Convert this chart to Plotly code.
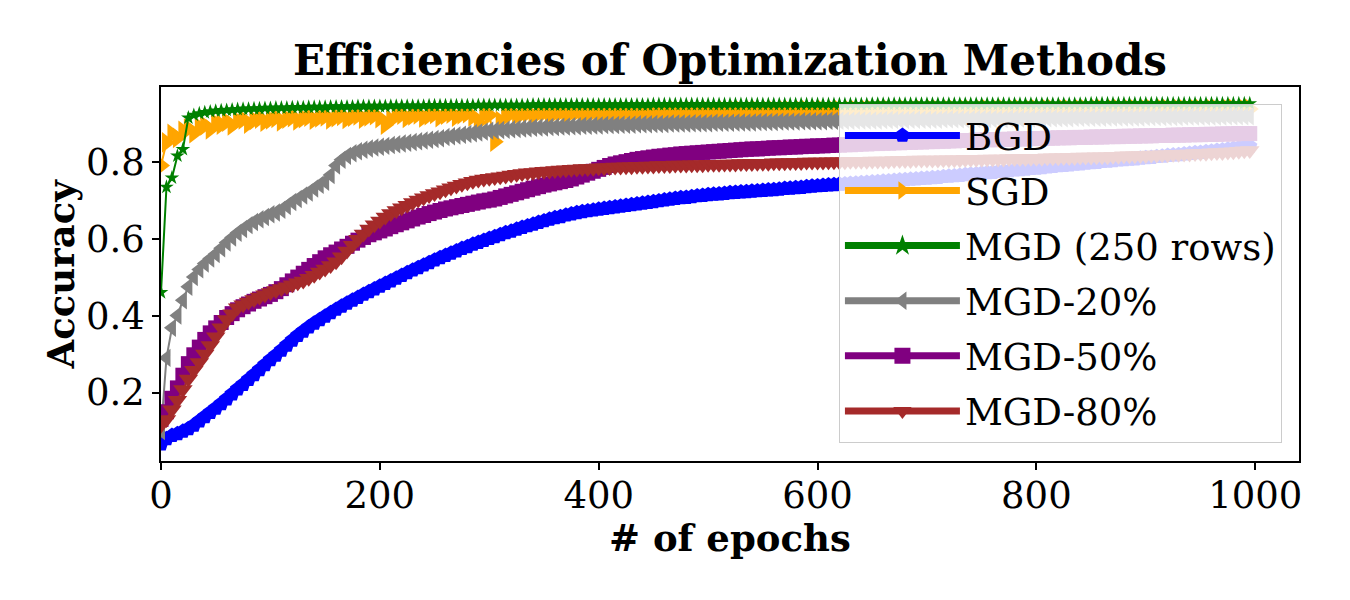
import plotly.graph_objects as go

EPOCHS = list(range(0, 1000, 5))

BGD = [
    0.066, 0.080, 0.088, 0.093, 0.099, 0.106, 0.115, 0.126, 0.137, 0.148, 0.159, 0.171, 0.183, 0.196, 0.209, 0.221, 0.234, 0.246, 0.259, 0.272,
    0.285, 0.297, 0.310, 0.323, 0.336, 0.348, 0.359, 0.370, 0.380, 0.389, 0.398, 0.407, 0.416, 0.424, 0.432, 0.440, 0.447, 0.455, 0.462, 0.469,
    0.476, 0.483, 0.490, 0.497, 0.504, 0.511, 0.518, 0.524, 0.531, 0.537, 0.544, 0.550, 0.556, 0.562, 0.568, 0.574, 0.579, 0.585, 0.590, 0.595,
    0.600, 0.605, 0.610, 0.615, 0.619, 0.624, 0.629, 0.633, 0.637, 0.642, 0.646, 0.650, 0.654, 0.657, 0.661, 0.664, 0.667, 0.670, 0.672, 0.674,
    0.676, 0.678, 0.680, 0.682, 0.684, 0.686, 0.688, 0.690, 0.692, 0.694, 0.696, 0.698, 0.700, 0.702, 0.704, 0.706, 0.707, 0.709, 0.711, 0.712,
    0.714, 0.715, 0.716, 0.717, 0.719, 0.720, 0.721, 0.722, 0.723, 0.724, 0.725, 0.726, 0.727, 0.728, 0.730, 0.731, 0.732, 0.733, 0.735, 0.736,
    0.737, 0.738, 0.739, 0.740, 0.741, 0.742, 0.743, 0.744, 0.745, 0.746, 0.747, 0.748, 0.749, 0.750, 0.751, 0.752, 0.753, 0.754, 0.755, 0.756,
    0.757, 0.758, 0.759, 0.761, 0.762, 0.763, 0.764, 0.766, 0.767, 0.768, 0.770, 0.771, 0.772, 0.774, 0.775, 0.776, 0.778, 0.779, 0.780, 0.782,
    0.783, 0.784, 0.786, 0.787, 0.789, 0.790, 0.791, 0.793, 0.794, 0.796, 0.797, 0.798, 0.800, 0.801, 0.802, 0.804, 0.805, 0.806, 0.807, 0.809,
    0.810, 0.811, 0.813, 0.814, 0.816, 0.817, 0.818, 0.820, 0.821, 0.823, 0.824, 0.826, 0.827, 0.829, 0.830, 0.832, 0.834, 0.836, 0.838, 0.840,
]

SGD = [
    0.790, 0.850, 0.872, 0.862, 0.880, 0.886, 0.874, 0.890, 0.894, 0.884, 0.900, 0.896, 0.904, 0.894, 0.906, 0.910, 0.899, 0.908, 0.912, 0.904,
    0.910, 0.914, 0.905, 0.912, 0.916, 0.907, 0.913, 0.917, 0.909, 0.915, 0.918, 0.910, 0.916, 0.919, 0.911, 0.917, 0.920, 0.912, 0.918, 0.921,
    0.913, 0.896, 0.909, 0.919, 0.922, 0.914, 0.920, 0.923, 0.915, 0.921, 0.924, 0.916, 0.922, 0.925, 0.917, 0.923, 0.926, 0.918, 0.902, 0.924,
    0.921, 0.852, 0.906, 0.921, 0.926, 0.919, 0.925, 0.927, 0.920, 0.926, 0.928, 0.921, 0.926, 0.928, 0.922, 0.927, 0.929, 0.923, 0.927, 0.929,
    0.923, 0.928, 0.929, 0.924, 0.928, 0.930, 0.924, 0.929, 0.930, 0.925, 0.929, 0.930, 0.925, 0.929, 0.931, 0.926, 0.930, 0.931, 0.926, 0.930,
    0.931, 0.927, 0.930, 0.931, 0.927, 0.931, 0.932, 0.927, 0.931, 0.932, 0.928, 0.931, 0.932, 0.928, 0.932, 0.932, 0.928, 0.932, 0.933, 0.929,
    0.932, 0.933, 0.929, 0.932, 0.933, 0.929, 0.932, 0.933, 0.929, 0.933, 0.933, 0.930, 0.933, 0.934, 0.930, 0.933, 0.934, 0.930, 0.933, 0.934,
    0.930, 0.933, 0.934, 0.930, 0.934, 0.934, 0.930, 0.934, 0.934, 0.931, 0.934, 0.935, 0.931, 0.934, 0.935, 0.931, 0.934, 0.935, 0.931, 0.934,
    0.935, 0.931, 0.935, 0.935, 0.931, 0.935, 0.935, 0.932, 0.935, 0.935, 0.932, 0.935, 0.936, 0.932, 0.935, 0.936, 0.932, 0.935, 0.936, 0.932,
    0.935, 0.936, 0.932, 0.936, 0.936, 0.932, 0.936, 0.936, 0.933, 0.936, 0.936, 0.933, 0.936, 0.936, 0.933, 0.936, 0.937, 0.933, 0.936, 0.937,
]

MGD_250 = [
    0.460, 0.734, 0.758, 0.815, 0.832, 0.914, 0.921, 0.925, 0.928, 0.930, 0.932, 0.933, 0.934, 0.935, 0.936, 0.937, 0.937, 0.938, 0.938, 0.939,
    0.939, 0.940, 0.940, 0.940, 0.941, 0.941, 0.941, 0.942, 0.942, 0.942, 0.942, 0.943, 0.943, 0.943, 0.943, 0.943, 0.944, 0.944, 0.944, 0.944,
    0.944, 0.944, 0.945, 0.945, 0.945, 0.945, 0.945, 0.945, 0.945, 0.946, 0.946, 0.946, 0.946, 0.946, 0.946, 0.946, 0.946, 0.946, 0.947, 0.947,
    0.947, 0.947, 0.947, 0.947, 0.947, 0.947, 0.947, 0.947, 0.948, 0.948, 0.948, 0.948, 0.948, 0.948, 0.948, 0.948, 0.948, 0.948, 0.948, 0.948,
    0.948, 0.948, 0.948, 0.948, 0.948, 0.948, 0.948, 0.948, 0.948, 0.948, 0.949, 0.949, 0.949, 0.949, 0.949, 0.949, 0.949, 0.949, 0.949, 0.949,
    0.949, 0.949, 0.949, 0.949, 0.949, 0.949, 0.949, 0.949, 0.949, 0.949, 0.949, 0.949, 0.949, 0.949, 0.949, 0.949, 0.949, 0.949, 0.949, 0.949,
    0.949, 0.949, 0.949, 0.949, 0.949, 0.949, 0.949, 0.949, 0.949, 0.949, 0.950, 0.950, 0.950, 0.950, 0.950, 0.950, 0.950, 0.950, 0.950, 0.950,
    0.950, 0.950, 0.950, 0.950, 0.950, 0.950, 0.950, 0.950, 0.950, 0.950, 0.950, 0.950, 0.950, 0.950, 0.950, 0.950, 0.950, 0.950, 0.950, 0.950,
    0.950, 0.950, 0.950, 0.950, 0.950, 0.950, 0.950, 0.950, 0.950, 0.950, 0.951, 0.951, 0.951, 0.951, 0.951, 0.951, 0.951, 0.951, 0.951, 0.951,
    0.951, 0.951, 0.951, 0.951, 0.951, 0.951, 0.951, 0.951, 0.951, 0.951, 0.951, 0.951, 0.951, 0.951, 0.951, 0.951, 0.951, 0.951, 0.951, 0.951,
]

MGD_20 = [
    0.100, 0.290, 0.368, 0.400, 0.440, 0.475, 0.500, 0.520, 0.535, 0.548, 0.560, 0.575, 0.590, 0.603, 0.615, 0.625, 0.635, 0.643, 0.650, 0.656,
    0.663, 0.668, 0.675, 0.685, 0.695, 0.703, 0.712, 0.720, 0.730, 0.740, 0.748, 0.765, 0.790, 0.805, 0.815, 0.822, 0.827, 0.831, 0.834, 0.837,
    0.839, 0.841, 0.843, 0.845, 0.847, 0.849, 0.851, 0.853, 0.855, 0.857, 0.859, 0.861, 0.864, 0.866, 0.868, 0.870, 0.872, 0.874, 0.876, 0.878,
    0.880, 0.881, 0.882, 0.883, 0.884, 0.885, 0.886, 0.887, 0.888, 0.889, 0.889, 0.890, 0.890, 0.891, 0.891, 0.892, 0.892, 0.893, 0.893, 0.894,
    0.894, 0.895, 0.895, 0.895, 0.896, 0.896, 0.896, 0.897, 0.897, 0.897, 0.898, 0.898, 0.898, 0.899, 0.899, 0.899, 0.899, 0.900, 0.900, 0.900,
    0.900, 0.901, 0.901, 0.901, 0.901, 0.902, 0.902, 0.902, 0.902, 0.903, 0.903, 0.903, 0.903, 0.904, 0.904, 0.904, 0.904, 0.905, 0.905, 0.905,
    0.905, 0.905, 0.906, 0.906, 0.906, 0.906, 0.906, 0.907, 0.907, 0.907, 0.907, 0.907, 0.908, 0.908, 0.908, 0.908, 0.908, 0.909, 0.909, 0.909,
    0.909, 0.909, 0.909, 0.910, 0.910, 0.910, 0.910, 0.910, 0.910, 0.911, 0.911, 0.911, 0.911, 0.911, 0.911, 0.912, 0.912, 0.912, 0.912, 0.912,
    0.912, 0.913, 0.913, 0.913, 0.913, 0.913, 0.913, 0.914, 0.914, 0.914, 0.914, 0.914, 0.914, 0.915, 0.915, 0.915, 0.915, 0.915, 0.915, 0.915,
    0.916, 0.916, 0.916, 0.916, 0.916, 0.916, 0.916, 0.917, 0.917, 0.917, 0.917, 0.917, 0.917, 0.917, 0.917, 0.918, 0.918, 0.918, 0.918, 0.918,
]

MGD_50 = [
    0.130, 0.150, 0.185, 0.212, 0.245, 0.275, 0.298, 0.318, 0.338, 0.355, 0.368, 0.382, 0.395, 0.405, 0.415, 0.423, 0.430, 0.437, 0.443, 0.449,
    0.455, 0.462, 0.470, 0.480, 0.490, 0.500, 0.510, 0.520, 0.530, 0.540, 0.550, 0.558, 0.565, 0.573, 0.580, 0.588, 0.596, 0.603, 0.610, 0.615,
    0.620, 0.625, 0.631, 0.636, 0.641, 0.646, 0.651, 0.656, 0.660, 0.665, 0.669, 0.673, 0.677, 0.680, 0.683, 0.686, 0.689, 0.692, 0.695, 0.698,
    0.700, 0.703, 0.707, 0.711, 0.715, 0.719, 0.723, 0.727, 0.731, 0.735, 0.739, 0.742, 0.745, 0.748, 0.751, 0.755, 0.760, 0.765, 0.770, 0.775,
    0.780, 0.785, 0.790, 0.794, 0.797, 0.800, 0.803, 0.806, 0.808, 0.810, 0.812, 0.814, 0.815, 0.817, 0.818, 0.820, 0.821, 0.822, 0.823, 0.824,
    0.825, 0.826, 0.827, 0.828, 0.829, 0.830, 0.831, 0.832, 0.833, 0.833, 0.834, 0.835, 0.836, 0.836, 0.837, 0.838, 0.838, 0.839, 0.840, 0.840,
    0.841, 0.841, 0.842, 0.843, 0.843, 0.844, 0.844, 0.845, 0.846, 0.846, 0.847, 0.847, 0.848, 0.848, 0.849, 0.849, 0.850, 0.850, 0.851, 0.851,
    0.852, 0.852, 0.853, 0.853, 0.854, 0.854, 0.855, 0.855, 0.855, 0.856, 0.856, 0.857, 0.857, 0.857, 0.858, 0.858, 0.859, 0.859, 0.859, 0.860,
    0.860, 0.860, 0.861, 0.861, 0.862, 0.862, 0.862, 0.863, 0.863, 0.863, 0.864, 0.864, 0.864, 0.865, 0.865, 0.865, 0.866, 0.866, 0.866, 0.867,
    0.867, 0.867, 0.868, 0.868, 0.868, 0.869, 0.869, 0.869, 0.870, 0.870, 0.870, 0.871, 0.871, 0.871, 0.872, 0.872, 0.872, 0.873, 0.873, 0.873,
]

MGD_80 = [
    0.115, 0.130, 0.155, 0.180, 0.208, 0.235, 0.258, 0.278, 0.300, 0.322, 0.345, 0.368, 0.390, 0.405, 0.420, 0.428, 0.435, 0.442, 0.448, 0.454,
    0.460, 0.465, 0.470, 0.475, 0.480, 0.485, 0.490, 0.497, 0.505, 0.513, 0.521, 0.530, 0.540, 0.553, 0.568, 0.583, 0.598, 0.612, 0.625, 0.636,
    0.646, 0.656, 0.665, 0.673, 0.680, 0.687, 0.694, 0.700, 0.706, 0.712, 0.717, 0.722, 0.727, 0.732, 0.737, 0.741, 0.745, 0.749, 0.752, 0.755,
    0.757, 0.759, 0.761, 0.763, 0.765, 0.767, 0.769, 0.771, 0.772, 0.774, 0.775, 0.776, 0.777, 0.778, 0.779, 0.780, 0.781, 0.782, 0.782, 0.783,
    0.784, 0.784, 0.785, 0.786, 0.786, 0.787, 0.787, 0.788, 0.788, 0.789, 0.789, 0.790, 0.790, 0.790, 0.791, 0.791, 0.791, 0.792, 0.792, 0.792,
    0.793, 0.793, 0.793, 0.794, 0.794, 0.794, 0.795, 0.795, 0.795, 0.796, 0.796, 0.796, 0.797, 0.797, 0.797, 0.798, 0.798, 0.798, 0.799, 0.799,
    0.799, 0.799, 0.800, 0.800, 0.800, 0.800, 0.801, 0.801, 0.801, 0.801, 0.802, 0.802, 0.802, 0.802, 0.803, 0.803, 0.803, 0.803, 0.804, 0.804,
    0.804, 0.804, 0.804, 0.805, 0.805, 0.805, 0.805, 0.806, 0.806, 0.806, 0.806, 0.807, 0.807, 0.807, 0.807, 0.808, 0.808, 0.808, 0.808, 0.809,
    0.809, 0.809, 0.810, 0.810, 0.810, 0.811, 0.811, 0.811, 0.812, 0.812, 0.812, 0.813, 0.813, 0.813, 0.814, 0.814, 0.815, 0.815, 0.815, 0.816,
    0.816, 0.817, 0.817, 0.818, 0.818, 0.819, 0.819, 0.820, 0.820, 0.821, 0.822, 0.822, 0.823, 0.824, 0.824, 0.825, 0.826, 0.827, 0.828, 0.829,
]

SERIES = [
    ("BGD", BGD, "blue", "pentagon", 16, 2),
    ("SGD", SGD, "orange", "triangle-right", 18, 2),
    ("MGD (250 rows)", MGD_250, "green", "star", 11, 2),
    ("MGD-20%", MGD_20, "gray", "triangle-left", 16, 2),
    ("MGD-50%", MGD_50, "purple", "square", 15, 2),
    ("MGD-80%", MGD_80, "brown", "triangle-down", 17, 2),
]

FONT = "DejaVu Serif"
FS = 37

fig = go.Figure()
for name, vals, color, sym, msize, lw in SERIES:
    fig.add_trace(go.Scatter(
        x=EPOCHS, y=vals, mode="lines+markers", name=name, showlegend=False,
        line=dict(color=color, width=lw),
        marker=dict(symbol=sym, size=msize, color=color, line=dict(width=0)),
    ))
# legend entries (thicker handles, as in the original legend)
for i, (name, vals, color, sym, msize, lw) in enumerate(SERIES):
    fig.add_trace(go.Scatter(
        x=[None], y=[None], mode="lines+markers", name=name, showlegend=True,
        legendgroup=f"g{i}",
        line=dict(color=color, width=7),
        marker=dict(symbol=sym, size=30, color=color),
    ))

axis_common = dict(
    showline=True, linecolor="black", linewidth=1.5, mirror=True,
    ticks="outside", ticklen=7, tickwidth=1.5, tickcolor="black",
    showgrid=False, zeroline=False,
    tickfont=dict(family=FONT, size=FS, color="black"),
)

fig.update_layout(
    width=1350, height=600,
    margin=dict(l=161, r=51, t=87, b=139),
    paper_bgcolor="white", plot_bgcolor="white",
    title=dict(text="Efficiencies of Optimization Methods",
               font=dict(family=FONT, size=42, color="black", weight="bold"),
               x=0.5, xref="paper", xanchor="center",
               y=0.9, yref="container", yanchor="middle"),
    xaxis=dict(range=[0, 1040], tickvals=[0, 200, 400, 600, 800, 1000],
               ticklabelstandoff=-6, **axis_common),
    yaxis=dict(range=[0.022, 0.994], tickvals=[0.2, 0.4, 0.6, 0.8],
               ticklabelstandoff=0, **axis_common),
    legend=dict(x=0.985, y=0.955, xanchor="right", yanchor="top",
                bgcolor="rgba(255,255,255,0.8)", bordercolor="#cccccc", borderwidth=1,
                font=dict(family=FONT, size=FS, color="black"),
                traceorder="grouped", tracegroupgap=4,
                itemwidth=115),
    annotations=[
        dict(text="# of epochs", xref="paper", yref="paper", x=0.5, y=-0.205,
             xanchor="center", yanchor="middle", showarrow=False,
             font=dict(family=FONT, size=FS, color="black", weight="bold")),
        dict(text="Accuracy", xref="paper", yref="paper", x=-0.0875, y=0.5,
             xanchor="center", yanchor="middle", textangle=-90, showarrow=False,
             font=dict(family=FONT, size=FS, color="black", weight="bold")),
    ],
)

fig.write_html("out.html")
